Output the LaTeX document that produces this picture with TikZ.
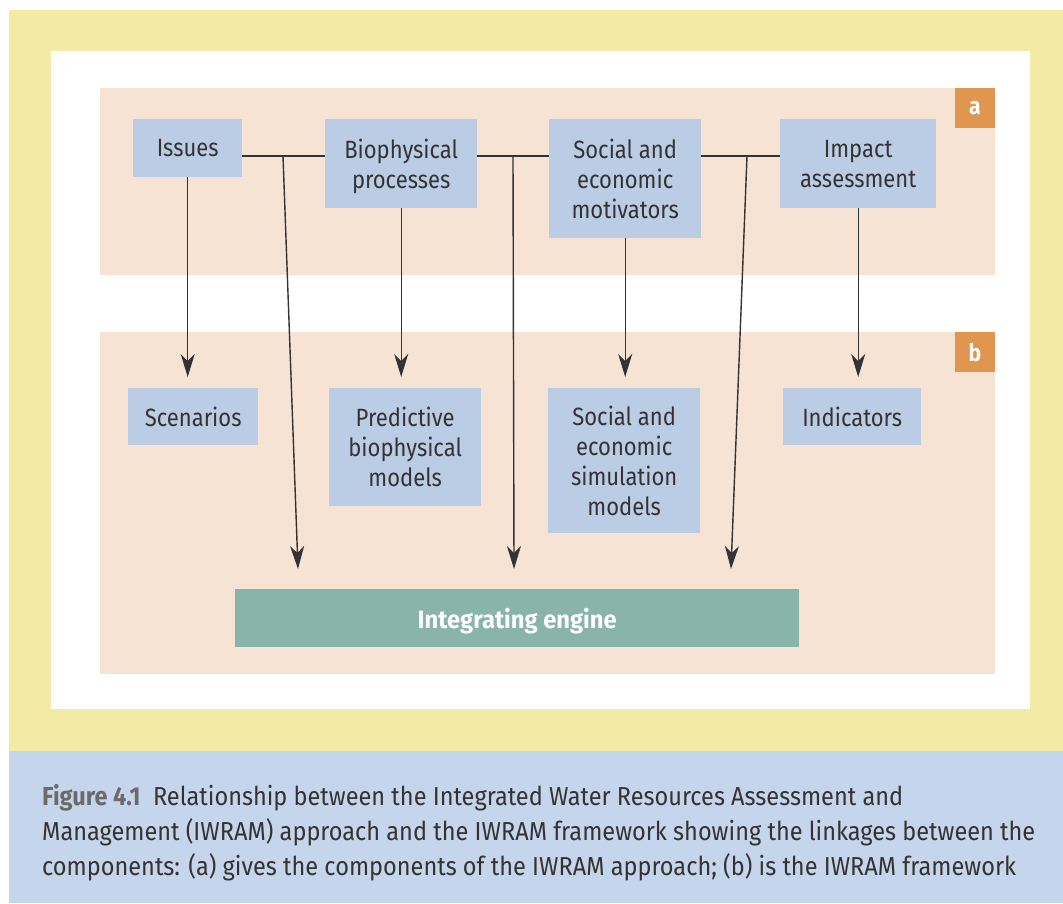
\documentclass[tikz,border=0pt]{standalone}
\usepackage{fontspec}
\setmainfont{Fira Sans}[FakeStretch=0.88]
\newfontfamily\capfont{Fira Sans}[FakeStretch=0.905]
\newfontfamily\enginefont{Fira Sans}[FakeStretch=0.95]
\usetikzlibrary{positioning,arrows.meta}
\definecolor{frameyellow}{HTML}{F3EBA5}
\definecolor{panelpeach}{HTML}{F7E3D3}
\definecolor{boxblue}{HTML}{BBCDE5}
\definecolor{tagorange}{HTML}{E0964F}
\definecolor{capblue}{HTML}{C5D5EB}
\definecolor{engineteal}{HTML}{88B4A9}
\definecolor{ink}{HTML}{333333}
\definecolor{figgray}{HTML}{6B6B6B}
\tikzset{
  every node/.style={
    inner sep=0pt,
    text=ink,
    font=\fontsize{25}{30}\selectfont
  },
  comp/.style={fill=boxblue, align=center, anchor=north west, text depth=0pt},
  tag/.style={fill=tagorange, text=white, minimum size=40pt, anchor=north east,
    font=\fontsize{24}{24}\selectfont\bfseries},
  link/.style={draw=ink, line width=1.4pt},
  feed/.style={link, -{Stealth[length=23pt,width=14pt,inset=7pt]}}
}

\begin{document}
\begin{tikzpicture}[x=1pt,y=-1pt]
      \useasboundingbox (0,0) rectangle (1063,903);
      % frame and panels
      \fill[white] (0,0) rectangle (1063,903);
      \fill[frameyellow] (9,10) rectangle (1063,751);
      \fill[capblue] (9,751) rectangle (1063,903);
      \fill[white] (51,51) rectangle (1030,709);
      \fill[panelpeach] (100,88) rectangle (995,275);
      \fill[panelpeach] (100,332) rectangle (995,674);
      \node [tag] (TagA) at (995,88) {a};
      \node [tag] (TagB) at (995,332) {b};

      % (a) approach
      \node [comp, minimum width=109pt, minimum height=58pt] (Issues) at (133,119) {Issues};
      \node [comp, minimum width=152pt, minimum height=89pt] (Bio) at (325,119) {Biophysical\\processes};
      \node [comp, minimum width=152pt, minimum height=119pt] (Social) at (549,119) {Social and\\economic\\motivators};
      \node [comp, minimum width=156pt, minimum height=89pt] (Impact) at (780,119) {Impact\\assessment};

      % (b) framework
      \node [comp, minimum width=130pt, minimum height=57pt] (Scen) at (128,388) {Scenarios};
      \node [comp, minimum width=152pt, minimum height=118pt] (Pred) at (329,388) {Predictive\\biophysical\\models};
      \node [comp, minimum width=152pt, minimum height=145pt] (Sim) at (548,388) {Social and\\economic\\simulation\\models};
      \node [comp, minimum width=138pt, minimum height=57pt] (Ind) at (783,388) {Indicators};
      \node [comp, fill=engineteal, text=white, minimum width=564pt, minimum height=58pt,
        font=\fontsize{25}{30}\selectfont\enginefont\bfseries] (Engine) at (235,589) {Integrating engine};

      \coordinate (J1) at (283,156);
      \coordinate (J2) at (513,156);
      \coordinate (J3) at (747,156);
      \coordinate (E1) at (298,569);
      \coordinate (E2) at (514,569);
      \coordinate (E3) at (731,569);

      \draw [link] (Issues.east |- J1) to (Bio.west |- J1);
      \draw [link] (Bio.east |- J2) to (Social.west |- J2);
      \draw [link] (Social.east |- J3) to (Impact.west |- J3);
      \draw [feed] (J1) to (E1);
      \draw [feed] (J2) to (E2);
      \draw [feed] (J3) to (E3);

      \draw [feed, shorten >=11pt] (Issues) to (Issues.south |- Scen.north);
      \draw [feed, shorten >=11pt] (Bio) to (Bio.south |- Pred.north);
      \draw [feed, shorten >=11pt] (Social) to (Social.south |- Sim.north);
      \draw [feed, shorten >=11pt] (Impact) to (Impact.south |- Ind.north);

      % caption
      \node [anchor=north west, align=left, font=\fontsize{26}{35}\selectfont\capfont] (Caption) at (42,784)
      {\textcolor{figgray}{\bfseries Figure 4.1}\ \ Relationship between the Integrated Water Resources Assessment and\\
       Management (IWRAM) approach and the IWRAM framework showing the linkages between the\\
       components: (a) gives the components of the IWRAM approach; (b) is the IWRAM framework};
    \end{tikzpicture}
\end{document}
